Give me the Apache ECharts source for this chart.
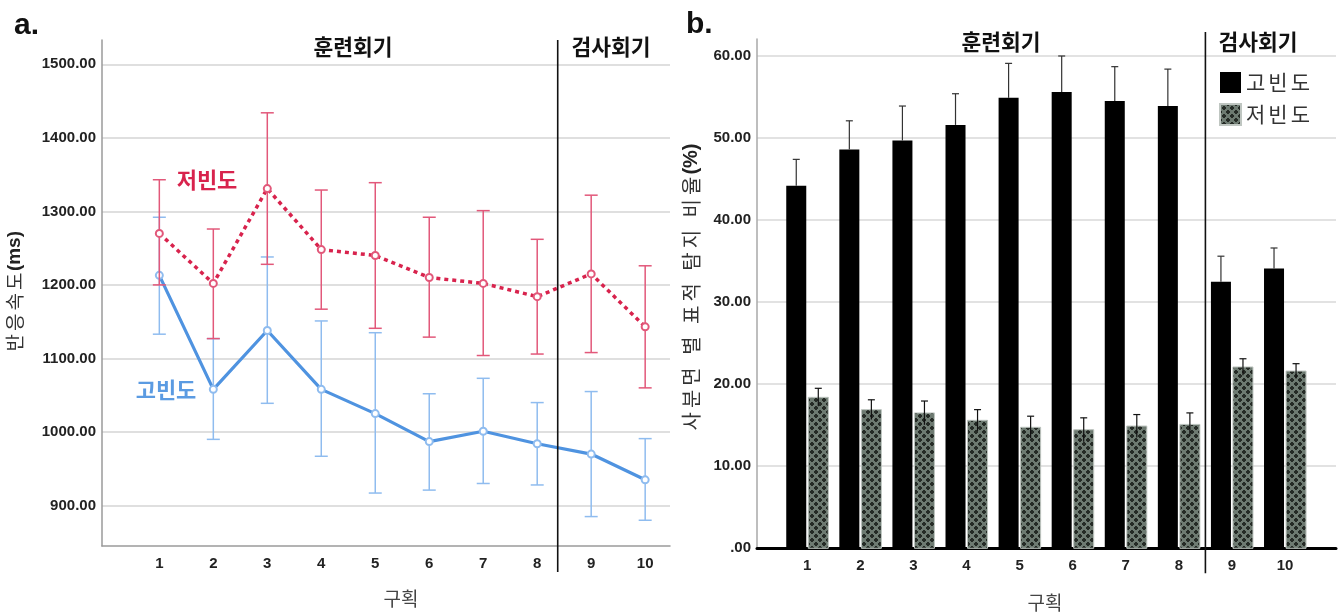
<!DOCTYPE html>
<html><head><meta charset="utf-8">
<script src="https://cdn.jsdelivr.net/npm/echarts@6.0.0/dist/echarts.min.js"></script>
<style>html,body{margin:0;padding:0;background:#fff}#c{width:1340px;height:615px}</style>
</head><body><div id="c"></div>
<script>
// ---------- data ----------
const blocks = [1, 2, 3, 4, 5, 6, 7, 8, 9, 10];
const rtTicks = [900, 1000, 1100, 1200, 1300, 1400, 1500];
const pctTicks = [0, 10, 20, 30, 40, 50, 60];
// panel a: reaction time (ms)
const rtHighMean  = [1213, 1058, 1138, 1058, 1025, 987, 1001, 984, 970, 935];
const rtHighUpper = [1292, 1127, 1238, 1151, 1135, 1052, 1073, 1040, 1055, 991];
const rtHighLower = [1133, 990, 1039, 967, 917, 921, 930, 928, 885, 880];
const rtLowMean   = [1270, 1202, 1331, 1248, 1240, 1210, 1202, 1184, 1215, 1143];
const rtLowUpper  = [1343, 1276, 1434, 1329, 1339, 1292, 1301, 1262, 1322, 1226];
const rtLowLower  = [1200, 1127, 1228, 1167, 1141, 1129, 1104, 1106, 1108, 1060];
// panel b: target detection ratio (%)
const detHigh      = [44.2, 48.6, 49.7, 51.6, 54.9, 55.6, 54.5, 53.9, 32.5, 34.1];
const detHighUpper = [47.4, 52.1, 53.9, 55.4, 59.1, 60.0, 58.7, 58.4, 35.6, 36.6];
const detLow       = [18.4, 16.9, 16.5, 15.6, 14.75, 14.45, 14.9, 15.1, 22.1, 21.6];
const detLowUpper  = [19.5, 18.1, 17.95, 16.9, 16.1, 15.9, 16.3, 16.5, 23.1, 22.5];
const phaseSplitA = 8.38;
const phaseSplitB = 8.5;

// ---------- styles ----------
const FONT = "'Liberation Sans', 'Noto Sans CJK KR', sans-serif";
const KFONT = "'Noto Sans CJK KR', 'Liberation Sans', sans-serif";
const RED = '#d8234d', RED_ERR = '#e2587a';
const BLUE = '#4f93e0', BLUE_ERR = '#8fbcef';

function spaced(str, key) {
  return str.split('').map(ch => '{' + key + '|' + ch + '}').join('');
}

function makePattern() {
  const c = document.createElement('canvas');
  c.width = 8; c.height = 8;
  const g = c.getContext('2d');
  g.fillStyle = '#6d7a71'; g.fillRect(0, 0, 8, 8);
  g.fillStyle = '#252b26';
  const plus = (cx, cy) => {
    g.fillRect(cx - 1, cy - 2, 2, 4);
    g.fillRect(cx - 2, cy - 1, 4, 2);
  };
  plus(0, 0); plus(8, 0); plus(0, 8); plus(8, 8); plus(4, 4);
  return c;
}
const patternFill = { image: makePattern(), repeat: 'repeat' };

function errRender(color, capHalf, lw) {
  return function (params, api) {
    const x = api.value(0), lo = api.value(1), hi = api.value(2);
    const pHi = api.coord([x, hi]), pLo = api.coord([x, lo]);
    const st = { stroke: color, lineWidth: lw };
    return { type: 'group', children: [
      { type: 'line', shape: { x1: pHi[0], y1: pHi[1], x2: pLo[0], y2: pLo[1] }, style: st },
      { type: 'line', shape: { x1: pHi[0] - capHalf, y1: pHi[1], x2: pHi[0] + capHalf, y2: pHi[1] }, style: st },
      { type: 'line', shape: { x1: pLo[0] - capHalf, y1: pLo[1], x2: pLo[0] + capHalf, y2: pLo[1] }, style: st }
    ] };
  };
}

function barRender(side, fill, stroke, errColor, showLower) {
  return function (params, api) {
    const x = api.value(0), v = api.value(1), hi = api.value(2);
    const unit = api.size([1, 0])[0];
    const w = unit * 0.377, gap = unit * 0.019;
    const top = api.coord([x, v]), base = api.coord([x, 0]), eTop = api.coord([x, hi]);
    const x0 = side < 0 ? top[0] - gap - w : top[0] + gap;
    const cx = x0 + w / 2;
    const eLoY = showLower ? top[1] + (top[1] - eTop[1]) : top[1];
    const est = { stroke: errColor, lineWidth: 1.2 };
    return {
      type: 'group', children: [
        { type: 'rect', shape: { x: x0, y: top[1], width: w, height: base[1] - top[1] },
          style: { fill: fill, stroke: stroke, lineWidth: stroke ? 1 : 0 } },
        { type: 'line', shape: { x1: cx, y1: eTop[1], x2: cx, y2: eLoY }, style: est },
        { type: 'line', shape: { x1: cx - 3.5, y1: eTop[1], x2: cx + 3.5, y2: eTop[1] }, style: est }
      ]
    };
  };
}

function splitRender(topExt, botExt) {
  return function (params, api) {
    const cs = params.coordSys;
    const p = api.coord([api.value(0), api.value(1)]);
    return { type: 'line', shape: { x1: p[0], y1: cs.y - topExt, x2: p[0], y2: cs.y + cs.height + botExt },
      style: { stroke: '#111', lineWidth: 1.6 } };
  };
}

const zip3 = (a, b, c) => blocks.map((x, i) => [x, a[i], b[i]]);

const chart = echarts.init(document.getElementById('c'), null, { renderer: 'canvas' });
chart.setOption({
  animation: false,
  backgroundColor: '#fff',
  textStyle: { fontFamily: FONT },
  grid: [
    { left: 102, top: 40, right: 670, bottom: 69 },
    { left: 757, top: 39, right: 4, bottom: 66.7 }
  ],
  xAxis: [
    { gridIndex: 0, type: 'value', min: -0.062, max: 10.46,
      axisLine: { show: true, onZero: false, lineStyle: { color: '#9a9a9a', width: 1.5 } },
      axisTick: { show: false, customValues: blocks }, splitLine: { show: false },
      axisLabel: { customValues: blocks, color: '#222', fontSize: 15, fontWeight: 'bold', margin: 10, fontFamily: FONT } },
    { gridIndex: 1, type: 'value', min: 0.053, max: 10.96,
      axisLine: { show: true, onZero: false, lineStyle: { color: '#000', width: 3 } },
      axisTick: { show: false, customValues: blocks }, splitLine: { show: false },
      axisLabel: { customValues: blocks, color: '#222', fontSize: 15, fontWeight: 'bold', margin: 10, fontFamily: FONT } }
  ],
  yAxis: [
    { gridIndex: 0, type: 'value', min: 845, max: 1533,
      axisLine: { show: true, onZero: false, lineStyle: { color: '#9a9a9a', width: 1.5 } },
      axisTick: { show: false, customValues: rtTicks },
      splitLine: { show: true, lineStyle: { color: '#d4d4d4', width: 1.5 } },
      axisLabel: { customValues: rtTicks, formatter: v => v.toFixed(2), color: '#222', fontSize: 15, fontWeight: 'bold', margin: 6, fontFamily: FONT } },
    { gridIndex: 1, type: 'value', min: 0, max: 62.07,
      axisLine: { show: true, onZero: false, lineStyle: { color: '#a8a8a8', width: 1.5 } },
      axisTick: { show: false, customValues: pctTicks },
      splitLine: { show: true, lineStyle: { color: '#d8d8d8', width: 1.5 } },
      axisLabel: { customValues: pctTicks, formatter: v => v === 0 ? '.00' : v.toFixed(2), color: '#222', fontSize: 15, fontWeight: 'bold', margin: 6, fontFamily: FONT } }
  ],
  legend: {
    data: ['고빈도', '저빈도'], orient: 'vertical', left: 1214, top: 67,
    itemWidth: 21, itemHeight: 21, itemGap: 10, icon: 'rect', selectedMode: false,
    formatter: name => spaced(name, 'c'),
    textStyle: { fontSize: 21, color: '#333', fontFamily: KFONT,
      rich: { c: { fontSize: 21, color: '#333', fontFamily: KFONT, padding: [0, 3, 0, 0] } } }
  },
  series: [
    // panel a
    { type: 'custom', name: 'errHighA', xAxisIndex: 0, yAxisIndex: 0, clip: false, z: 2,
      renderItem: errRender(BLUE_ERR, 6.5, 1.5), encode: { x: 0, y: [1, 2] },
      data: zip3(rtHighLower, rtHighUpper, rtHighMean) },
    { type: 'line', name: 'rtHigh', xAxisIndex: 0, yAxisIndex: 0, z: 3,
      data: blocks.map((x, i) => [x, rtHighMean[i]]),
      lineStyle: { color: BLUE, width: 3.2 }, symbol: 'emptyCircle', symbolSize: 7,
      itemStyle: { color: '#8fbcef', borderColor: '#8fbcef', borderWidth: 1.5 } },
    { type: 'custom', name: 'errLowA', xAxisIndex: 0, yAxisIndex: 0, clip: false, z: 4,
      renderItem: errRender(RED_ERR, 6.5, 1.5), encode: { x: 0, y: [1, 2] },
      data: zip3(rtLowLower, rtLowUpper, rtLowMean) },
    { type: 'line', name: 'rtLow', xAxisIndex: 0, yAxisIndex: 0, z: 5,
      data: blocks.map((x, i) => [x, rtLowMean[i]]),
      lineStyle: { color: RED, width: 3.5, type: [4, 4] }, symbol: 'emptyCircle', symbolSize: 7,
      itemStyle: { color: '#e2587a', borderColor: '#e2587a', borderWidth: 1.5 } },
    { type: 'custom', name: 'splitA', xAxisIndex: 0, yAxisIndex: 0, clip: false, z: 6,
      renderItem: splitRender(0, 26), encode: { x: 0, y: 1 }, data: [[phaseSplitA, 1000]] },
    // panel b
    { type: 'custom', name: '고빈도', xAxisIndex: 1, yAxisIndex: 1, clip: false, z: 3,
      itemStyle: { color: '#000' },
      renderItem: barRender(-1, '#000', null, '#333', false), encode: { x: 0, y: [1, 2] },
      data: zip3(detHigh, detHighUpper, blocks) },
    { type: 'custom', name: '저빈도', xAxisIndex: 1, yAxisIndex: 1, clip: false, z: 3,
      itemStyle: { color: patternFill, borderColor: '#bfc6c1', borderWidth: 1 },
      renderItem: barRender(1, patternFill, '#bfc6c1', '#111', true), encode: { x: 0, y: [1, 2] },
      data: zip3(detLow, detLowUpper, blocks) },
    { type: 'custom', name: 'splitB', xAxisIndex: 1, yAxisIndex: 1, clip: false, z: 6,
      renderItem: splitRender(7, 25), encode: { x: 0, y: 1 }, data: [[phaseSplitB, 30]] }
  ],
  graphic: [
    { type: 'text', left: 14, top: 11, style: { text: 'a.', font: 'bold 30px ' + FONT, fill: '#111' } },
    { type: 'text', left: 686, top: 10, style: { text: 'b.', font: 'bold 30px ' + FONT, fill: '#111' } },
    { type: 'text', x: 353, y: 47, style: { text: '훈련회기', font: 'bold 21.5px ' + KFONT, fill: '#111', align: 'center', verticalAlign: 'middle' } },
    { type: 'text', x: 611, y: 47, style: { text: '검사회기', font: 'bold 21.5px ' + KFONT, fill: '#111', align: 'center', verticalAlign: 'middle' } },
    { type: 'text', x: 1001, y: 42, style: { text: '훈련회기', font: 'bold 21.5px ' + KFONT, fill: '#111', align: 'center', verticalAlign: 'middle' } },
    { type: 'text', x: 1258, y: 42, style: { text: '검사회기', font: 'bold 21.5px ' + KFONT, fill: '#111', align: 'center', verticalAlign: 'middle' } },
    { type: 'text', x: 207, y: 180, style: { text: '저빈도', font: 'bold 22px ' + KFONT, fill: RED, align: 'center', verticalAlign: 'middle' } },
    { type: 'text', x: 166, y: 390, style: { text: '고빈도', font: 'bold 22px ' + KFONT, fill: '#5b9be2', align: 'center', verticalAlign: 'middle' } },
    { type: 'text', x: 401, y: 599, style: { text: '구획', font: '19px ' + KFONT, fill: '#444', align: 'center', verticalAlign: 'middle' } },
    { type: 'text', x: 1045, y: 603, style: { text: '구획', font: '19px ' + KFONT, fill: '#444', align: 'center', verticalAlign: 'middle' } },
    { type: 'text', x: 15, y: 292, rotation: Math.PI / 2,
      style: { text: spaced('반응속도', 'a') + '{b|(ms)}', align: 'center', verticalAlign: 'middle',
        rich: { a: { fontSize: 19, fontFamily: KFONT, fill: '#333', padding: [0, 1.5, 0, 1.5] },
                b: { fontSize: 19, fontWeight: 'bold', fontFamily: FONT, fill: '#222' } } } },
    { type: 'text', x: 691, y: 288, rotation: Math.PI / 2,
      style: { text: spaced('사분면 별 표적 탐지 비율', 'a') + '{b|(%)}', align: 'center', verticalAlign: 'middle',
        rich: { a: { fontSize: 20, fontFamily: KFONT, fill: '#333', padding: [0, 2, 0, 2] },
                b: { fontSize: 20, fontWeight: 'bold', fontFamily: FONT, fill: '#222' } } } }
  ]
});
</script>
</body></html>
